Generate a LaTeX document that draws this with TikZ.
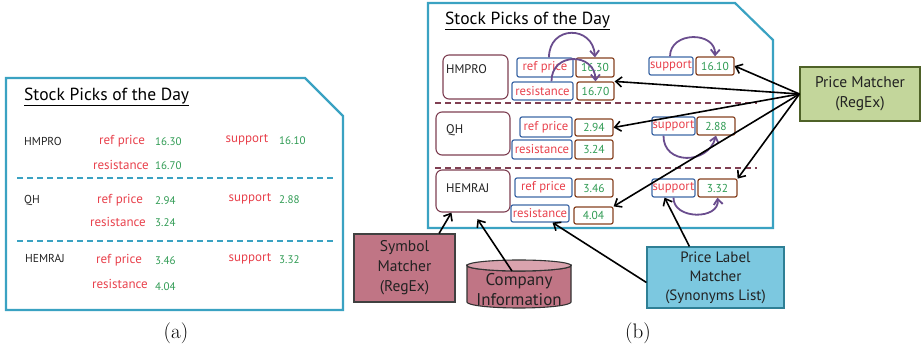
\documentclass[tikz,border=0pt]{standalone}
\usepackage{fontspec}
\setmainfont{Latin Modern Roman}
\newfontfamily\boxfont{PT Sans}
\usetikzlibrary{arrows.meta}

\definecolor{frameteal}{HTML}{3AA2C2}
\definecolor{labelred}{HTML}{E8414C}
\definecolor{valgreen}{HTML}{2E9A52}
\definecolor{symborder}{HTML}{7E3F52}
\definecolor{labborder}{HTML}{3E68A6}
\definecolor{valborder}{HTML}{86401F}
\definecolor{arcpurple}{HTML}{6A4D8E}
\definecolor{sepmaroon}{HTML}{803F52}
\definecolor{pmfill}{HTML}{C3D69B}
\definecolor{pmborder}{HTML}{4F6228}
\definecolor{smfill}{HTML}{C07585}
\definecolor{cyltop}{HTML}{D9A3AE}
\definecolor{plmfill}{HTML}{7CC8E0}
\definecolor{plmborder}{HTML}{2E7F95}
\definecolor{inktext}{HTML}{222222}

\tikzset{
  x=1pt, y=-1pt,
  frame/.style={draw=frameteal, line width=2.2pt, line join=miter},
  sep/.style={draw=frameteal, line width=1.8pt, dash pattern=on 6pt off 4pt},
  sepb/.style={draw=sepmaroon, line width=1.6pt, dash pattern=on 6pt off 4pt},
  title/.style={font=\boxfont\fontsize{17.5}{19}\selectfont, text=black, inner sep=0pt},
  sym/.style={font=\boxfont\fontsize{11.5}{12}\selectfont, text=inktext, inner sep=0pt, anchor=west},
  lab/.style={font=\boxfont\fontsize{13}{14}\selectfont, text=labelred, inner sep=0pt},
  val/.style={font=\boxfont\fontsize{11}{12}\selectfont, text=valgreen, inner sep=0pt},
  symbox/.style={draw=symborder, line width=1.1pt, rounded corners=6pt, inner sep=0pt},
  labbox/.style={draw=labborder, line width=1.2pt, rounded corners=2pt, inner sep=0pt,
    font=\boxfont\fontsize{12.7}{13}\selectfont, text=labelred},
  valbox/.style={draw=valborder, line width=1.2pt, rounded corners=2pt, inner sep=0pt,
    font=\boxfont\fontsize{11.5}{12}\selectfont, text=valgreen},
  arc/.style={draw=arcpurple, line width=1.8pt, -{Straight Barb[length=5.5pt,width=9pt]}},
  link/.style={draw=black, line width=1.6pt, -{Straight Barb[length=6pt,width=10pt]}},
  toolbox/.style={line width=1.1pt, inner sep=0pt, align=center,
    font=\boxfont\fontsize{15.5}{20}\selectfont, text=inktext},
  caption/.style={font=\fontsize{21}{24}\selectfont, inner sep=0pt}
}

\begin{document}
\begin{tikzpicture}
\useasboundingbox (0,0) rectangle (922,352);

% ---------- panel (a): the plain page ----------
\draw[frame] (6,78) -- (305,78) -- (343,116) -- (343,310) -- (6,310) -- cycle;
\node[title, anchor=west] (ta) at (24,97) {\underline{Stock Picks of the Day}};

\node[sym] (a1s) at (24,141) {HMPRO};
\node[lab] (a1r) at (122,141) {ref price};
\node[val, anchor=west] (a1rv) at (155,142) {16.30};
\node[lab] (a1p) at (247,140) {support};
\node[val, anchor=west] (a1pv) at (279,141) {16.10};
\node[lab] (a1t) at (121,165) {resistance};
\node[val, anchor=west] (a1tv) at (155,166) {16.70};
\draw[sep] (17,178) -- (333,178);

\node[sym] (a2s) at (24,200) {QH};
\node[lab] (a2r) at (120,200) {ref price};
\node[val, anchor=west] (a2rv) at (155,201) {2.94};
\node[lab] (a2p) at (250,199) {support};
\node[val, anchor=west] (a2pv) at (279,200) {2.88};
\node[lab] (a2t) at (118,222) {resistance};
\node[val, anchor=west] (a2tv) at (155,223) {3.24};
\draw[sep] (17,241) -- (333,241);

\node[sym] (a3s) at (25,258) {HEMRAJ};
\node[lab] (a3r) at (119,260) {ref price};
\node[val, anchor=west] (a3rv) at (155,261) {3.46};
\node[lab] (a3p) at (250,259) {support};
\node[val, anchor=west] (a3pv) at (279,260) {3.32};
\node[lab] (a3t) at (120,284) {resistance};
\node[val, anchor=west] (a3tv) at (155,287) {4.04};

\node[caption] (capa) at (176,333) {(a)};

% ---------- panel (b): the annotated page ----------
\draw[frame] (428,3) -- (735,3) -- (773,40) -- (773,228) -- (428,228) -- cycle;
\node[title, anchor=west] (tb) at (445,21) {\underline{Stock Picks of the Day}};

% row 1
\node[symbox, minimum width=65pt, minimum height=44pt] (b1s) at (475.5,77) {};
\node[sym, font=\boxfont\fontsize{12.5}{13}\selectfont] (b1st) at (446,69) {HMPRO};
\node[labbox, minimum width=56pt, minimum height=19pt] (b1r) at (545,67.5) {ref price};
\node[valbox, minimum width=38pt, minimum height=19pt] (b1rv) at (595,67.5) {16.30};
\node[labbox, minimum width=61pt, minimum height=18pt] (b1t) at (542.5,91) {resistance};
\node[valbox, minimum width=37pt, minimum height=18pt] (b1tv) at (595.5,91) {16.70};
\node[labbox, minimum width=44pt, minimum height=18pt] (b1p) at (671,66) {support};
\node[valbox, minimum width=38pt, minimum height=18pt] (b1pv) at (715,66) {16.10};
\draw[sepb] (435,103) -- (757,103);

% row 2
\node[symbox, minimum width=74pt, minimum height=43pt] (b2s) at (473,133.5) {};
\node[sym, font=\boxfont\fontsize{12.5}{13}\selectfont] (b2st) at (446,130) {QH};
\node[labbox, minimum width=52pt, minimum height=20pt] (b2r) at (546,127) {ref price};
\node[valbox, minimum width=38pt, minimum height=17pt] (b2rv) at (594,127.5) {2.94};
\node[labbox, minimum width=60pt, minimum height=19pt] (b2t) at (542,149.5) {resistance};
\node[valbox, minimum width=38pt, minimum height=19pt] (b2tv) at (594,149.5) {3.24};
\node[labbox, minimum width=43pt, minimum height=18pt] (b2p) at (673.5,126) {support};
\node[valbox, minimum width=38pt, minimum height=18pt] (b2pv) at (716,126) {2.88};
\draw[sepb] (435,168) -- (757,168);

% row 3
\node[symbox, minimum width=74pt, minimum height=42pt] (b3s) at (473,191) {};
\node[sym, font=\boxfont\fontsize{12.5}{13}\selectfont] (b3st) at (446,188) {HEMRAJ};
\node[labbox, minimum width=57pt, minimum height=19pt] (b3r) at (543.5,187.5) {ref price};
\node[valbox, minimum width=38pt, minimum height=18pt] (b3rv) at (594,188) {3.46};
\node[labbox, minimum width=58pt, minimum height=17pt] (b3t) at (540,213.5) {resistance};
\node[valbox, minimum width=39pt, minimum height=17pt] (b3tv) at (593.5,215.5) {4.04};
\node[labbox, minimum width=43pt, minimum height=18pt] (b3p) at (673.5,188) {support};
\node[valbox, minimum width=39pt, minimum height=18pt] (b3pv) at (717.5,188) {3.32};

% label-to-value links
\draw[arc] (b1r.north) ++(4,0) coordinate (k1a) (k1a) .. controls (549,25) and (593,25) .. (b1rv.north);
\draw[arc] (b1t.north) ++(9,0) coordinate (k1b) (k1b) .. controls (551,52) and (595,52) .. (b1tv.north);
\draw[arc] (b1p.north) ++(-1,0) coordinate (k1c) (k1c) .. controls (670,31) and (716,31) .. (b1pv.north);
\draw[arc] (b2p.south) ++(-10,0) coordinate (k2c) (k2c) .. controls (663,165) and (708,165) .. (b2pv.south);
\draw[arc] (b3p.south) coordinate (k3c) (k3c) .. controls (673,220) and (720,220) .. (b3pv.south);

% matchers
\node[toolbox, draw=pmborder, fill=pmfill, minimum width=120pt, minimum height=54pt] (pm) at (860,94) {Price Matcher\\(RegEx)};
\node[toolbox, draw=black!75, fill=smfill, minimum width=101pt, minimum height=68pt] (sm) at (404.5,268) {Symbol\\Matcher\\(RegEx)};
\node[toolbox, draw=plmborder, fill=plmfill, minimum width=137pt, minimum height=61pt,
      font=\boxfont\fontsize{15}{19}\selectfont] (plm) at (715.5,277.5) {Price Label\\Matcher\\(Synonyms List)};

% company database: a cylinder seen from slightly above
\path[draw=black!80, line width=1.1pt, fill=smfill]
  (467,265.5) -- (467,302) arc[start angle=180, end angle=360, x radius=52pt, y radius=6pt]
  -- (571,265.5) arc[start angle=0, end angle=180, x radius=52pt, y radius=-5.5pt] -- cycle;
\path[draw=black!80, line width=1.1pt, fill=cyltop]
  (519,265.5) ellipse[x radius=52pt, y radius=5.5pt];
\node[toolbox, font=\boxfont\fontsize{17}{20}\selectfont] (ci) at (519,290) {Company\\Information};
\coordinate (citop) at (512,271);

% matcher links
\draw[link] (pm.west) -- (b1pv.east);
\draw[link] (pm.west) -- (b1tv.north east);
\draw[link] (pm.west) -- (b2rv.east);
\draw[link] (pm.west) -- (b3tv.north east);
\draw[link] (pm.west) -- (b3pv.25);
\draw[link] (sm.45) -- (b3s.225);
\draw[link, shorten >=8pt] (citop) -- (b3s.south);
\draw[link] (plm.west) ++(0,5) coordinate (plmw) (plmw) -- (b3t.-36);
\draw[link] (plm.130) -- (b3p.227);

\node[caption] (capb) at (638,333) {(b)};
\end{tikzpicture}
\end{document}
